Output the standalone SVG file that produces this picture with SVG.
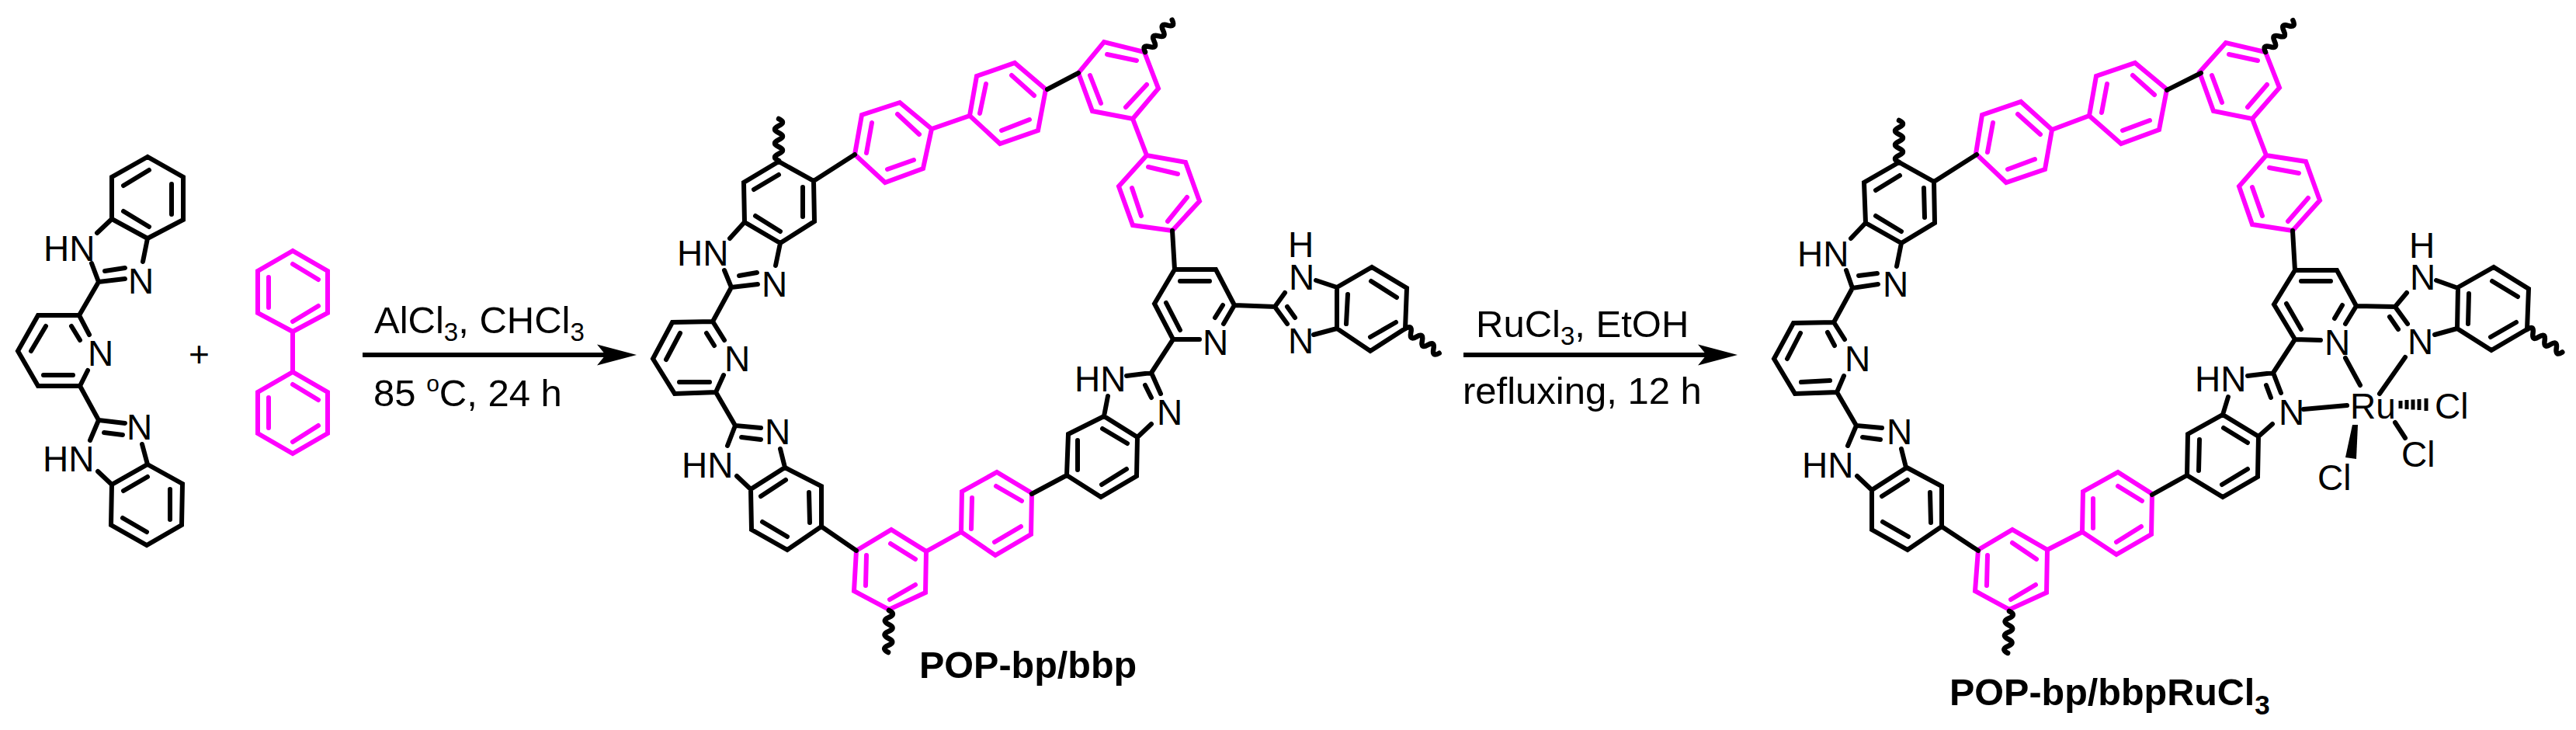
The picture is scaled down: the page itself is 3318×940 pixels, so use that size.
<svg xmlns="http://www.w3.org/2000/svg" xmlns:xlink="http://www.w3.org/1999/xlink" width="3318" height="940" viewBox="0 0 3318 940">
<style>
.k,.m{fill:none;stroke-width:6;stroke-linecap:round;stroke-linejoin:miter}
.k{stroke:#000}.m{stroke:#f0f}
.w{fill:none;stroke:#000;stroke-width:6.500;stroke-linecap:round}
text{font-family:"Liberation Sans",Arial,sans-serif;font-size:46px;fill:#000}
.c{font-size:49px}.s{font-size:33px}.o{font-size:30px}
.l{font-size:48.500px;font-weight:bold}
.ls{font-size:35px;font-weight:bold}
</style>
<defs>
<path id="wave" class="w" d="M0 0q4.500 -10 9 0t9 0t9 0t9 0t9 0t9 0"/>
<marker id="head" markerUnits="userSpaceOnUse" markerWidth="52" markerHeight="28" refX="11" refY="14" orient="auto"><path d="M51 14L0 0.500L11 14L0 27.500z" fill="#000"/></marker>
</defs>
<rect width="3318" height="940" fill="#fff"/>

<g id="bis-benzimidazolyl-pyridine">
<path class="k" d="M190 202L144 228V282L190 307L236 283V228ZM159 239L192 219M221 237V276M159 272L192 292M144 282L125 300M190 307L184 337M118 339L127 363L161 359M135 349L161 345M127 363L102 406M115 431L102 406H49L23 452L49 497H103L113 477M59 420L40 452M56 483H94M92 420L103 438M103 497L127 541L161 545M134 557L158 560M127 541L116 567M183 572L190 598M126 607L144 624M190 598L235 623L234 676L189 702L143 676L144 624ZM159 632L190 614M219 630V669M158 667L189 685"/>
<text x="56" y="336">HN</text><text x="165" y="378">N</text><text x="113" y="471">N</text><text x="163" y="566">N</text><text x="55" y="607">HN</text>
</g>

<g id="plus"><text x="243" y="472">+</text></g>

<g id="biphenyl">
<path class="m" d="M377 323L332 349V403L377 427L422 403V349ZM377 340L410 360M346 357V396M377 414L410 394M377 427V479M377 479L332 505V558L377 584L422 558V505ZM377 495L410 515M346 512V551M377 569L410 548"/>
</g>

<g id="POP-bp-bbp">
<path class="m" d="M1103 709L1148 682L1193 710L1192 763L1145 785L1100 761ZM1147 700L1179 720M1116 715L1115 754M1146 772L1179 753M1193 710L1238 685M1238 685L1239 633L1284 608L1329 635L1328 688L1282 715ZM1252 641L1251 681M1283 626L1316 645M1281 698L1315 678"/>
<path class="m" d="M1510 297L1545 259L1527 209L1477 200L1441 240L1459 290ZM1504 285L1529 254M1458 242L1470 278M1479 215L1517 224M1477 200L1459 153M1459 153L1492 114L1474 67L1422 54L1389 94L1407 143ZM1450 138L1477 109M1404 97L1418 133M1426 70L1464 78"/>
<path class="m" d="M1347 115L1307 81L1258 98L1249 149L1288 185L1337 168ZM1303 97L1332 123M1270 108L1262 146M1290 168L1326 154M1249 149L1200 166M1200 166L1159 132L1110 148L1101 199L1140 235L1189 217ZM1156 147L1184 173M1123 158L1116 197M1143 218L1177 206"/>
<path class="k" d="M1003 208L958 235L959 286L1005 313L1049 285L1048 233ZM971 244L1003 225M1034 241V279M973 278L1005 298M1048 233L1101 199M959 286L940 307M1005 313L999 342M933 348L942 370L976 366M952 355L975 351M942 370L918 414M933 438L918 414L866 415L841 462L869 507L922 505L932 483M876 429L858 463M875 492H914M910 429L920 445M922 505L947 548L980 551M955 563L980 566M947 548L937 574M1005 578L1011 602M949 613L967 630M1011 602L1058 626V678L1014 708L968 682L967 630ZM980 639L1012 618M1042 634L1043 673M982 672L1014 691M1058 678L1103 709M1329 636L1374 612M1374 612L1376 559L1422 536L1465 563L1464 613L1418 640ZM1388 567V605M1420 552L1452 571M1419 624L1451 604M1422 536L1427 510M1451 484L1483 480L1495 507M1475 496L1483 512M1465 563L1483 546M1483 480L1511 437M1511 437L1487 391L1513 347H1566L1590 393L1576 417M1511 437H1545M1520 425L1502 390M1520 362H1558M1575 393L1565 409M1513 347L1510 297M1349 115L1389 94M1590 393L1642 395L1655 377M1642 395L1658 417M1658 395L1668 409M1695 361L1722 370M1692 431L1722 423M1722 370L1767 344L1812 371L1810 423L1765 452L1722 423ZM1736 379L1734 417M1766 362L1799 383M1765 434L1798 415"/>
<use xlink:href="#wave" href="#wave" transform="translate(1003 207) rotate(-90)"/>
<use xlink:href="#wave" href="#wave" transform="translate(1145 786) rotate(91)"/>
<use xlink:href="#wave" href="#wave" transform="translate(1475 67) rotate(-50)"/>
<use xlink:href="#wave" href="#wave" transform="translate(1810 423) rotate(36)"/>
<text x="872" y="342">HN</text><text x="981" y="382">N</text><text x="933" y="478">N</text><text x="985" y="572">N</text><text x="878" y="615">HN</text><text x="1384" y="504">HN</text><text x="1490" y="547">N</text><text x="1549" y="457">N</text><text><tspan x="1659" y="331">H</tspan><tspan x="1660" y="373">N</tspan></text><text x="1659" y="455">N</text>
<text class="l" x="1184" y="873">POP-bp/bbp</text>
</g>

<g id="POP-bp-bbpRuCl3">
<path class="m" d="M2548 708L2592 682L2637 708L2636 763L2588 785L2544 761ZM2592 699L2623 720M2560 715L2559 754M2590 772L2622 753M2637 708L2682 685M2682 685L2683 633L2728 608L2772 636L2771 688L2726 714ZM2696 642V680M2728 626L2759 645M2726 698L2758 678"/>
<path class="m" d="M2953 297L2988 258L2970 208L2919 200L2884 240L2901 289ZM2947 285L2973 255M2901 241L2914 278M2923 216L2961 223M2919 200L2901 153M2901 153L2936 113L2918 67L2867 55L2833 93L2851 143ZM2895 138L2920 109M2849 97L2862 132M2871 70L2908 78"/>
<path class="m" d="M2791 115L2750 81L2700 98L2691 149L2732 185L2781 167ZM2747 97L2775 122M2714 108L2707 145M2734 168L2769 155M2691 149L2643 167M2643 167L2603 131L2553 148L2545 198L2584 235L2634 218ZM2599 147L2628 173M2567 158L2560 196M2586 218L2621 205"/>
<path class="k" d="M2446 209L2401 235L2403 287L2449 313L2492 287L2491 234ZM2416 245L2447 226M2478 242L2479 280M2416 278L2449 298M2491 234L2546 199M2403 287L2384 307M2449 313L2443 343M2378 348L2386 371L2419 366M2394 355L2418 352M2386 371L2362 415M2376 437L2362 415L2310 416L2285 462L2312 507L2366 505L2375 484M2319 429L2302 462M2320 492L2357 490M2354 428L2363 445M2366 505L2391 548L2424 551M2399 563L2422 566M2391 548L2380 574M2449 578L2455 602M2392 613L2411 631M2456 602L2501 626V678L2457 708L2411 682V631ZM2424 639L2457 618M2486 634L2487 673M2425 672L2458 691M2501 678L2548 709M2772 637L2817 612M2817 612L2818 559L2863 534L2909 562L2908 614L2863 640ZM2833 566L2832 606M2864 551L2895 570M2862 624L2895 604M2863 534L2870 511M2895 484L2928 480L2938 506M2919 496L2925 512M2909 562L2927 546M2967 527L3023 522M2928 480L2956 437M2956 437L2929 392L2956 348H3010L3035 394L3021 417M2956 437L2989 438M2964 362H3002M2945 391L2964 424M3017 393L3007 410M3021 461L3040 496M3098 460L3065 507M2956 348L2953 297M2791 116L2835 94M3035 394L3085 395L3100 377M3085 395L3101 417M3078 408L3089 424M3138 361L3166 371M3136 431L3165 423M3166 370L3212 344L3257 372L3255 424L3209 451L3165 423ZM3180 378L3179 417M3210 362L3243 382M3208 434L3241 415M3085 544L3098 564"/>
<path style="fill:none;stroke:#000;stroke-width:5" d="M3092 516V526M3100 515V527M3108 514.500V527.500M3116 514V528M3125 513V529"/>
<path d="M3030 547L3037 547L3035 591L3021 589Z" fill="#000"/>
<use xlink:href="#wave" href="#wave" transform="translate(2446 209) rotate(-90)"/>
<use xlink:href="#wave" href="#wave" transform="translate(2588 787) rotate(92)"/>
<use xlink:href="#wave" href="#wave" transform="translate(2918 67) rotate(-49)"/>
<use xlink:href="#wave" href="#wave" transform="translate(3255 424) rotate(33)"/>
<text x="2315" y="343">HN</text><text x="2425" y="382">N</text><text x="2376" y="478">N</text><text x="2430" y="572">N</text><text x="2321" y="615">HN</text><text x="2827" y="504">HN</text><text x="2935" y="547">N</text><text x="2994" y="457">N</text><text><tspan x="3103" y="332">H</tspan><tspan x="3104" y="373">N</tspan></text><text x="3101" y="456">N</text>
<text x="3027" y="539">Ru</text><text x="3136" y="539">Cl</text><text x="3093" y="601">Cl</text><text x="2985" y="631">Cl</text>
<text class="l" x="2511" y="908">POP-bp/bbpRuCl<tspan class="ls" dy="12">3</tspan></text>
</g>

<g id="connectors">
<line x1="467" y1="457" x2="780" y2="457" stroke="#000" stroke-width="6" marker-end="url(#head)"/>
<line x1="1885" y1="457" x2="2198" y2="457" stroke="#000" stroke-width="6" marker-end="url(#head)"/>
</g>

<g id="conditions">
<text class="c" x="482" y="429">AlCl<tspan class="s" dy="10">3</tspan><tspan dy="-10">, CHCl</tspan><tspan class="s" dy="10">3</tspan></text>
<text class="c" x="481" y="523">85 <tspan class="o" dy="-19">o</tspan><tspan dy="19">C, 24 h</tspan></text>
<text class="c" x="1901" y="434">RuCl<tspan class="s" dy="10">3</tspan><tspan dy="-10">, EtOH</tspan></text>
<text class="c" x="1884" y="520">refluxing, 12 h</text>
</g>
</svg>
